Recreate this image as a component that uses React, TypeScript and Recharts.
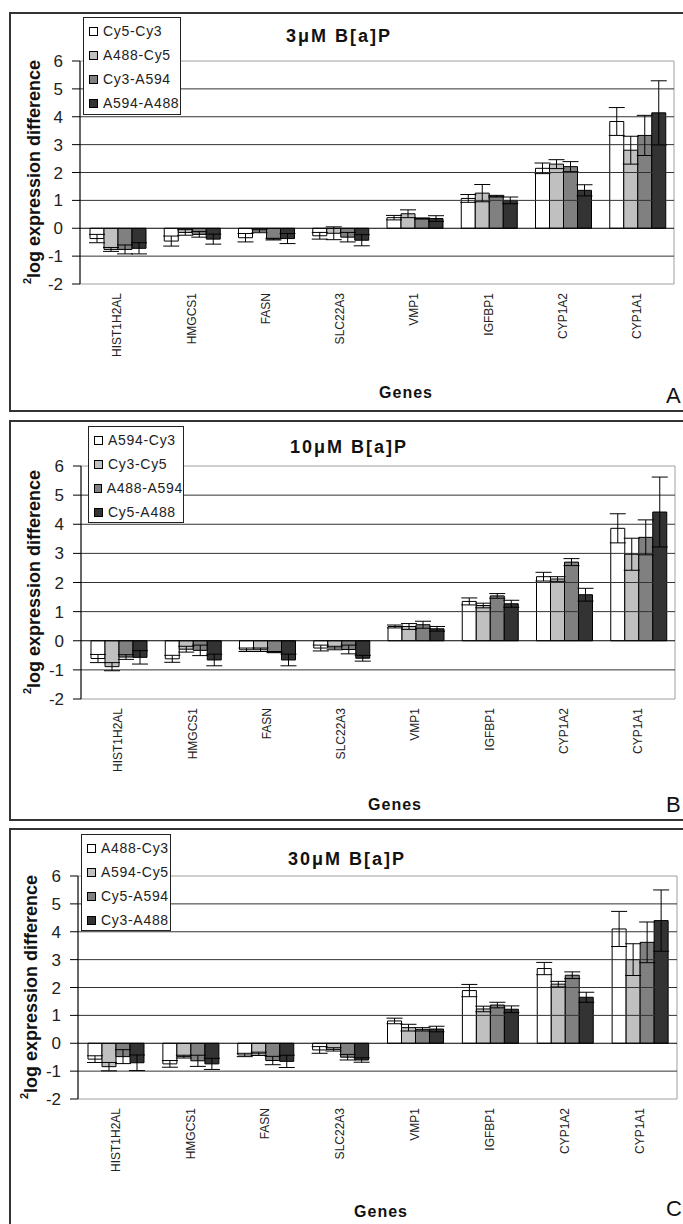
import React from 'react';
import { BarChart, Bar, XAxis, YAxis, ErrorBar, ReferenceLine, ReferenceArea, Legend } from 'recharts';

const genes = ['HIST1H2AL', 'HMGCS1', 'FASN', 'SLC22A3', 'VMP1', 'IGFBP1', 'CYP1A2', 'CYP1A1'];
const yTicks = [-2, -1, 0, 1, 2, 3, 4, 5, 6];
const gridLines = [-1, 1, 2, 3, 4, 5];

// Panel A: 3 µM B[a]P
const namesA = ['Cy5-Cy3', 'A488-Cy5', 'Cy3-A594', 'A594-A488'];
const a1 = [-0.37, -0.46, -0.34, -0.27, 0.38, 1.07, 2.15, 3.83];
const a2 = [-0.76, -0.15, -0.1, -0.18, 0.52, 1.26, 2.3, 2.8];
const a3 = [-0.76, -0.22, -0.39, -0.32, 0.35, 1.15, 2.21, 3.33];
const a4 = [-0.72, -0.39, -0.37, -0.43, 0.35, 1.0, 1.36, 4.14];
const a1e = [0.15, 0.18, 0.15, 0.12, 0.08, 0.14, 0.19, 0.5];
const a2e = [0.07, 0.1, 0.06, 0.23, 0.14, 0.31, 0.16, 0.5];
const a3e = [0.16, 0.1, 0.03, 0.17, 0.02, 0.03, 0.18, 0.72];
const a4e = [0.2, 0.18, 0.18, 0.2, 0.1, 0.12, 0.2, 1.15];

// Panel B: 10 µM B[a]P
const namesB = ['A594-Cy3', 'Cy3-Cy5', 'A488-A594', 'Cy5-A488'];
const b1 = [-0.61, -0.62, -0.31, -0.25, 0.49, 1.35, 2.2, 3.86];
const b2 = [-0.89, -0.29, -0.31, -0.25, 0.49, 1.21, 2.12, 2.97];
const b3 = [-0.56, -0.33, -0.39, -0.3, 0.55, 1.54, 2.7, 3.55];
const b4 = [-0.57, -0.66, -0.66, -0.6, 0.41, 1.27, 1.58, 4.42];
const b1e = [0.14, 0.12, 0.06, 0.1, 0.05, 0.12, 0.15, 0.5];
const b2e = [0.14, 0.1, 0.06, 0.06, 0.1, 0.08, 0.08, 0.55];
const b3e = [0.08, 0.18, 0.02, 0.15, 0.12, 0.08, 0.12, 0.6];
const b4e = [0.23, 0.2, 0.2, 0.1, 0.08, 0.12, 0.22, 1.2];

// Panel C: 30 µM B[a]P
const namesC = ['A488-Cy3', 'A594-Cy5', 'Cy5-A594', 'Cy3-A488'];
const c1 = [-0.57, -0.74, -0.42, -0.24, 0.8, 1.89, 2.68, 4.1];
const c2 = [-0.84, -0.48, -0.38, -0.22, 0.56, 1.23, 2.12, 3.0];
const c3 = [-0.48, -0.63, -0.62, -0.5, 0.5, 1.37, 2.44, 3.62];
const c4 = [-0.7, -0.74, -0.65, -0.6, 0.51, 1.22, 1.65, 4.4];
const c1e = [0.12, 0.12, 0.06, 0.12, 0.1, 0.22, 0.22, 0.63];
const c2e = [0.15, 0.05, 0.06, 0.06, 0.12, 0.1, 0.1, 0.57];
const c3e = [0.25, 0.2, 0.15, 0.1, 0.06, 0.1, 0.12, 0.73];
const c4e = [0.28, 0.2, 0.22, 0.08, 0.1, 0.12, 0.18, 1.1];

const FILLS = ['#ffffff', '#c0c0c0', '#808080', '#333333'];
const FONT = '"Liberation Sans", Arial, Helvetica, sans-serif';

function buildRows(vals: number[][], errs: number[][]) {
  return genes.map((g, i) => {
    const r: any = { gene: g };
    vals.forEach((v, k) => {
      r['s' + k] = v[i];
      r['e' + k] = errs[k][i];
    });
    return r;
  });
}

const panels = [
  {
    key: 'A', title: '3μM B[a]P', names: namesA,
    vals: [a1, a2, a3, a4], errs: [a1e, a2e, a3e, a4e],
    top: 12, boxH: 400, chartH: 400,
    margin: { top: 49, right: 9, left: 20, bottom: 48 },
    legend: { left: 83, top: 5, width: 98, height: 98 },
    titleX: 286, titleY: 42, genesX: 406, genesY: 398, letterX: 666, letterY: 403,
    ylabX: 40, ylabY: 172,
  },
  {
    key: 'B', title: '10μM B[a]P', names: namesB,
    vals: [b1, b2, b3, b4], errs: [b1e, b2e, b3e, b4e],
    top: 420, boxH: 401, chartH: 401,
    margin: { top: 46, right: 8, left: 21, bottom: 42 },
    legend: { left: 88, top: 6, width: 96, height: 97 },
    titleX: 290, titleY: 453, genesX: 395, genesY: 810, letterX: 666, letterY: 812,
    ylabX: 40, ylabY: 582,
  },
  {
    key: 'C', title: '30μM B[a]P', names: namesC,
    vals: [c1, c2, c3, c4], errs: [c1e, c2e, c3e, c4e],
    top: 828, boxH: 420, chartH: 396,
    margin: { top: 48, right: 6, left: 18, bottom: 45 },
    legend: { left: 81, top: 6, width: 90, height: 97 },
    titleX: 288, titleY: 865, genesX: 381, genesY: 1217, letterX: 666, letterY: 1216,
    ylabX: 37, ylabY: 987,
  },
];

const GeneTick = (props: any) => {
  const { x, y, payload } = props;
  return (
    <text
      x={x}
      y={y}
      dy="0.35em"
      transform={`rotate(-90, ${x}, ${y})`}
      textAnchor="end"
      fontSize={12}
      fontFamily={FONT}
      fill="#222"
    >
      {payload.value}
    </text>
  );
};

const makeLegend = (w: number, h: number, order: string[]) => (props: any) => {
  const items = [...(props.payload || [])].sort(
    (x: any, y: any) => order.indexOf(x.value) - order.indexOf(y.value)
  );
  return (
    <div
      style={{
        width: w, height: h, boxSizing: 'border-box', border: '1.5px solid #222',
        background: '#fff', paddingTop: 1, fontFamily: FONT,
      }}
    >
      {items.map((p: any, i: number) => (
        <div key={i} style={{ display: 'flex', alignItems: 'center', height: 24, fontSize: 14, letterSpacing: 0.7, color: '#222', whiteSpace: 'nowrap' }}>
          <span style={{ display: 'inline-block', width: 7, height: 7, border: '1px solid #000', background: (p.payload && p.payload.fill) || p.color, marginLeft: 5, marginRight: 5 }} />
          {p.value}
        </div>
      ))}
    </div>
  );
};

function Panel({ p }: { p: any }) {
  const data = buildRows(p.vals, p.errs);
  return (
    <div style={{ position: 'absolute', left: 0, top: p.top }}>
      <BarChart width={683} height={p.chartH} data={data} margin={p.margin} barCategoryGap={10} barGap={0}>
        <ReferenceArea y1={-2} y2={6} fill="none" stroke="#a0a0a0" strokeWidth={1} ifOverflow="visible" />
        {gridLines.map((v) => (
          <ReferenceLine key={v} y={v} stroke="#333" strokeWidth={1} />
        ))}
        <XAxis
          dataKey="gene"
          interval={0}
          axisLine={false}
          tickLine={false}
          tickSize={6}
          tickMargin={3}
          height={80}
          tick={<GeneTick />}
        />
        <YAxis
          width={60}
          domain={[-2, 6]}
          ticks={yTicks}
          interval={0}
          allowDataOverflow
          axisLine={{ stroke: '#000', strokeWidth: 1 }}
          tickLine={{ stroke: '#000', strokeWidth: 1 }}
          tickSize={8}
          tickMargin={9}
          tick={{ fontSize: 17, fill: '#222', fontFamily: FONT }}
        />
        <Legend
          layout="vertical"
          align="center"
          verticalAlign="middle"
          width={p.legend.width}
          height={p.legend.height}
          wrapperStyle={{ left: p.legend.left, top: p.legend.top, width: p.legend.width, height: p.legend.height }}
          content={makeLegend(p.legend.width, p.legend.height, p.names)}
        />
        {p.names.map((n: string, k: number) => (
          <Bar key={n} dataKey={'s' + k} name={n} fill={FILLS[k]} stroke="#000" strokeWidth={1} isAnimationActive={false}>
            <ErrorBar dataKey={'e' + k} width={8} stroke="#000" strokeWidth={1} />
          </Bar>
        ))}
        <ReferenceLine y={0} stroke="#000" strokeWidth={1} />
      </BarChart>
    </div>
  );
}

export default function App() {
  return (
    <div style={{ position: 'relative', width: 683, height: 1224, overflow: 'hidden', background: '#fff', fontFamily: FONT }}>
      <style>{'html,body{margin:0;padding:0;overflow:hidden;background:#fff}'}</style>
      {panels.map((p) => (
        <div
          key={'box' + p.key}
          style={{ position: 'absolute', left: 9, top: p.top, width: 700, height: p.boxH, border: '2px solid #333', boxSizing: 'border-box' }}
        />
      ))}
      {panels.map((p) => (
        <Panel key={p.key} p={p} />
      ))}
      <svg width={683} height={1224} style={{ position: 'absolute', left: 0, top: 0, pointerEvents: 'none' }}>
        {panels.map((p) => (
          <g key={'t' + p.key} fontFamily={FONT} fill="#111">
            <text x={p.titleX} y={p.titleY} fontSize={18} fontWeight="bold" letterSpacing={2}>{p.title}</text>
            <text x={p.genesX} y={p.genesY} fontSize={16} fontWeight="bold" letterSpacing={1} textAnchor="middle">Genes</text>
            <text x={p.letterX} y={p.letterY} fontSize={22}>{p.key}</text>
            <text transform={`translate(${p.ylabX}, ${p.ylabY}) rotate(-90)`} textAnchor="middle" fontSize={18} fontWeight="bold">
              <tspan fontSize={11} dy={-9}>2</tspan>
              <tspan dy={9}>log expression difference</tspan>
            </text>
          </g>
        ))}
      </svg>
    </div>
  );
}
